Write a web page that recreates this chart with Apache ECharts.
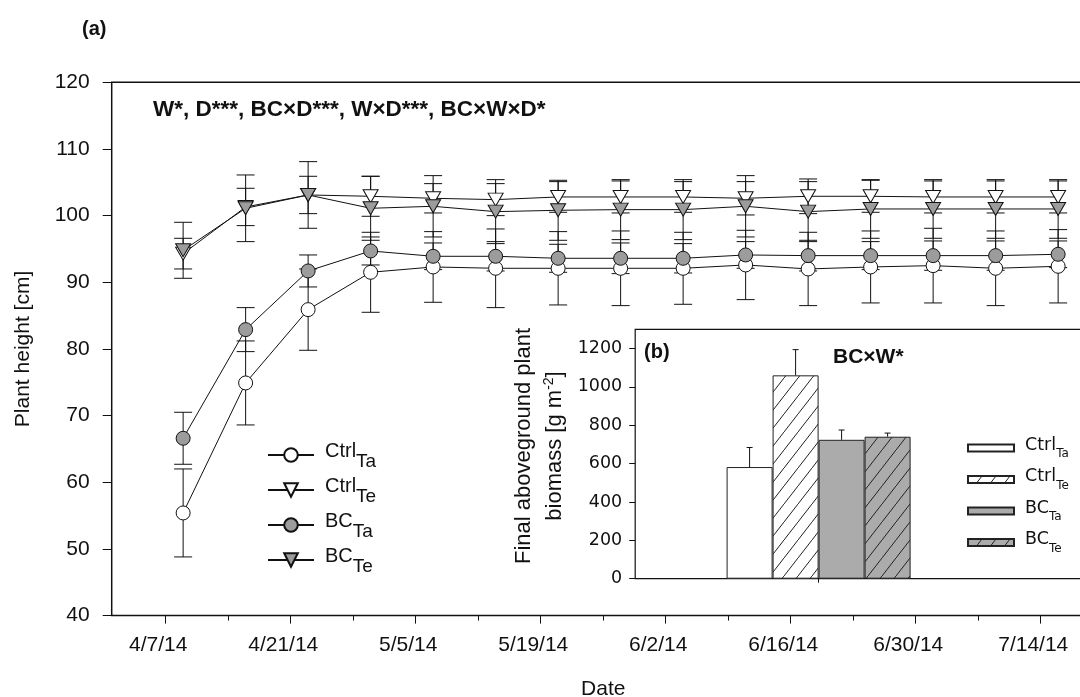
<!DOCTYPE html>
<html>
<head>
<meta charset="utf-8">
<script src="https://cdn.jsdelivr.net/npm/echarts@6/dist/echarts.min.js"></script>
<style>
html,body{margin:0;padding:0;background:#fff;}
#chart{width:1080px;height:697px;}
</style>
</head>
<body>
<div id="chart"></div>
<script>
// ---- Plant height, weekly means and SD per treatment ----
const sampleDates = ['4/9/14','4/16/14','4/23/14','4/30/14','5/7/14','5/14/14','5/21/14','5/28/14',
                     '6/4/14','6/11/14','6/18/14','6/25/14','7/2/14','7/9/14','7/16/14'];
const heightCtrlTa = [55.4, 74.9, 85.9, 91.5, 92.3, 92.1, 92.1, 92.1, 92.1, 92.6, 92.0, 92.3, 92.5, 92.1, 92.4];
const heightCtrlTe = [94.3, 101.3, 103.1, 102.9, 102.6, 102.4, 102.8, 102.8, 102.8, 102.6, 102.9, 102.9, 102.8, 102.8, 102.8];
const heightBCTa   = [66.6, 82.9, 91.7, 94.7, 93.9, 93.9, 93.6, 93.6, 93.6, 94.1, 94.0, 94.0, 94.0, 94.0, 94.2];
const heightBCTe   = [94.8, 101.1, 103.1, 101.1, 101.4, 100.6, 100.8, 100.9, 100.9, 101.4, 100.6, 101.0, 101.0, 101.0, 101.0];
const sdCtrlTa = [6.6, 6.3, 6.1, 6.0, 5.3, 5.9, 5.5, 5.6, 5.4, 5.2, 5.5, 5.4, 5.6, 5.6, 5.5];
const sdCtrlTe = [2.3, 2.8, 2.8, 3.0, 2.2, 2.4, 2.3, 2.4, 2.3, 2.5, 2.6, 2.4, 2.4, 2.4, 2.4];
const sdBCTa   = [3.9, 3.3, 2.4, 2.1, 2.0, 2.2, 2.1, 2.3, 2.2, 2.0, 2.3, 2.1, 2.2, 2.2, 2.0];
const sdBCTe   = [4.2, 5.0, 5.0, 4.8, 4.6, 4.8, 4.5, 4.5, 4.5, 4.6, 4.5, 4.4, 4.4, 4.4, 4.4];

// ---- Date axis ----
const dateAxisStart = '4/1/14';
const dateAxisEnd = '7/21/14';
const dateTickLabels = ['4/7/14','4/21/14','5/5/14','5/19/14','6/2/14','6/16/14','6/30/14','7/14/14'];
const dateMinorTicks = ['4/14/14','4/28/14','5/12/14','5/26/14','6/9/14','6/23/14','7/7/14','7/21/14'];

// ---- Treatments ----
const treatments = ['CtrlTa', 'CtrlTe', 'BCTa', 'BCTe'];
const treatmentBase = ['Ctrl', 'Ctrl', 'BC', 'BC'];
const treatmentSub = ['Ta', 'Te', 'Ta', 'Te'];

// ---- Final aboveground biomass (g m-2) ----
const biomass = [582, 1060, 724, 740];
const biomassErr = [102, 134, 51, 19];
const biomassTicks = [0, 200, 400, 600, 800, 1000, 1200];

// --------------------------------------------------------
function dayNum(s) {
  const p = s.split('/').map(Number);
  return Date.UTC(2000 + p[2], p[0] - 1, p[1]) / 864e5;
}
const xs = sampleDates.map(dayNum);
const tickValues = dateTickLabels.map(dayNum);
const minorValues = dateMinorTicks.map(dayNum);
const tickText = {};
dateTickLabels.forEach(function (l, i) { tickText[tickValues[i]] = l; });

const heights = [heightCtrlTa, heightCtrlTe, heightBCTa, heightBCTe];
const sds = [sdCtrlTa, sdCtrlTe, sdBCTa, sdBCTe];

const FONT = 'Liberation Sans, Arial, sans-serif';
const FONT_IN = 'DejaVu Sans, sans-serif';
const INK = '#111';

// main panel: 125 px per two weeks, frame runs past the right edge
const PX_PER_DAY = 125 / 14;
const mainWidth = (dayNum(dateAxisEnd) - dayNum(dateAxisStart)) * PX_PER_DAY;

// diagonal hatch tile for the warmed-treatment bars
function hatch(bg) {
  const w = 14, h = 18;
  const c = document.createElement('canvas');
  c.width = w; c.height = h;
  const g = c.getContext('2d');
  g.fillStyle = bg; g.fillRect(0, 0, w, h);
  g.strokeStyle = '#222'; g.lineWidth = 1;
  [[0, 0], [-w, h], [w, -h]].forEach(function (o) {
    g.beginPath(); g.moveTo(o[0], h + o[1]); g.lineTo(w + o[0], o[1]); g.stroke();
  });
  return { image: c, repeat: 'repeat' };
}
const GRAY_MARK = '#9c9c9c';
const GRAY_BAR = '#ababab';
const barFills = ['#ffffff', hatch('#ffffff'), GRAY_BAR, hatch(GRAY_BAR)];
const markFill = ['#ffffff', '#ffffff', GRAY_MARK, GRAY_MARK];
const markSymbol = ['circle', 'triangle', 'circle', 'triangle'];

function barName(t) { return t + ' biomass'; }
const nameIndex = {};
treatments.forEach(function (t, i) { nameIndex[t] = i; nameIndex[barName(t)] = i; });
function legendLabel(name) {
  const i = nameIndex[name];
  return '{b|' + treatmentBase[i] + '}{s|' + treatmentSub[i] + '}';
}

// error bars (mean +/- sd) with caps
function errorBarRender(capW) {
  return function (params, api) {
    const x = api.value(0), lo = api.value(1), hi = api.value(2);
    const a = api.coord([x, lo]), b = api.coord([x, hi]);
    const st = { stroke: INK, lineWidth: 1, fill: null };
    return {
      type: 'group',
      children: [
        { type: 'line', shape: { x1: a[0], y1: a[1], x2: b[0], y2: b[1] }, style: st },
        { type: 'line', shape: { x1: a[0] - capW / 2, y1: a[1], x2: a[0] + capW / 2, y2: a[1] }, style: st },
        { type: 'line', shape: { x1: b[0] - capW / 2, y1: b[1], x2: b[0] + capW / 2, y2: b[1] }, style: st }
      ]
    };
  };
}

// upward-only error bar on grouped bars
function biomassErrRender(params, api) {
  const i = api.value(3);
  const c = api.coord([0, api.value(1)]);
  const t = api.coord([0, api.value(2)]);
  const band = api.size([1, 0])[0];
  const cx = c[0] + (i - 1.5) * band / 4;
  const st = { stroke: INK, lineWidth: 1, fill: null };
  return {
    type: 'group',
    children: [
      { type: 'line', shape: { x1: cx, y1: c[1], x2: cx, y2: t[1] }, style: st },
      { type: 'line', shape: { x1: cx - 3, y1: t[1], x2: cx + 3, y2: t[1] }, style: st }
    ]
  };
}

const series = [];
treatments.forEach(function (t, i) {
  series.push({
    type: 'custom', name: t + ' sd', xAxisIndex: 0, yAxisIndex: 0, z: 3,
    renderItem: errorBarRender(18), silent: true,
    data: xs.map(function (x, k) { return [x, heights[i][k] - sds[i][k], heights[i][k] + sds[i][k]]; })
  });
});
treatments.forEach(function (t, i) {
  series.push({
    type: 'line', name: t, xAxisIndex: 0, yAxisIndex: 0, z: 5,
    data: xs.map(function (x, k) { return [x, heights[i][k]]; }),
    symbol: markSymbol[i],
    symbolRotate: markSymbol[i] === 'triangle' ? 180 : 0,
    symbolSize: markSymbol[i] === 'triangle' ? [15, 13] : 14,
    showAllSymbol: true,
    lineStyle: { color: INK, width: 1 },
    itemStyle: { color: markFill[i], borderColor: INK, borderWidth: 1, opacity: 1 },
    emphasis: { disabled: true }
  });
});
treatments.forEach(function (t, i) {
  series.push({
    type: 'bar', name: barName(t), xAxisIndex: 3, yAxisIndex: 2, z: 5,
    data: [biomass[i]], barGap: '0%', barCategoryGap: '0%',
    itemStyle: { color: barFills[i], borderColor: '#222', borderWidth: 1 },
    emphasis: { disabled: true }
  });
});
series.push({
  type: 'custom', name: 'biomass se', xAxisIndex: 3, yAxisIndex: 2, z: 6, silent: true,
  renderItem: biomassErrRender,
  data: biomass.map(function (v, i) { return [0, v, v + biomassErr[i], i]; })
});

const option = {
  animation: false,
  backgroundColor: '#fff',
  grid: [
    { left: 111.7, top: 82.3, width: mainWidth, bottom: 81.4, outerBoundsMode: 'none', containLabel: false,
      show: true, borderColor: INK, borderWidth: 1.5, backgroundColor: 'transparent' },
    { left: 635.2, top: 329.3, width: 500, bottom: 118.3, outerBoundsMode: 'none', containLabel: false,
      show: true, borderColor: INK, borderWidth: 1.2, backgroundColor: '#fff', z: 4 },
    { left: 726.6, top: 329.3, width: 184, bottom: 118.3, outerBoundsMode: 'none', containLabel: false, show: false }
  ],
  xAxis: [
    {
      gridIndex: 0, type: 'value', min: dayNum(dateAxisStart), max: dayNum(dateAxisEnd),
      position: 'bottom',
      axisLine: { show: false },
      splitLine: { show: false },
      axisTick: { show: true, length: 8, lineStyle: { color: INK, width: 1 }, customValues: tickValues },
      axisLabel: {
        customValues: tickValues, fontFamily: FONT, fontSize: 21, color: INK, margin: 19,
        padding: [0, 14, 0, 0],
        formatter: function (v) { return tickText[v] || ''; }
      },
      name: 'Date', nameLocation: 'middle', nameGap: 63,
      nameTextStyle: { fontFamily: FONT, fontSize: 21, color: INK, padding: [0, 8, 0, 0] }
    },
    {
      gridIndex: 0, type: 'value', min: dayNum(dateAxisStart), max: dayNum(dateAxisEnd),
      position: 'bottom', offset: 0,
      axisLine: { show: false }, splitLine: { show: false },
      axisTick: { show: true, length: 5, lineStyle: { color: INK, width: 1 }, customValues: minorValues },
      axisLabel: { show: false }
    },
    {
      gridIndex: 1, type: 'value', min: 0, max: 1,
      axisLine: { show: false }, axisTick: { show: false }, axisLabel: { show: false }, splitLine: { show: false }
    },
    {
      gridIndex: 2, type: 'category', data: ['biomass'],
      axisLine: { show: false },
      axisTick: { show: true, alignWithLabel: true, length: 4, lineStyle: { color: INK } },
      axisLabel: { show: false }
    }
  ],
  yAxis: [
    {
      gridIndex: 0, type: 'value', min: 40, max: 120, interval: 10,
      axisLine: { show: false }, splitLine: { show: false },
      axisTick: { show: true, length: 9, lineStyle: { color: INK, width: 1 } },
      axisLabel: { fontFamily: FONT, fontSize: 21, color: INK, margin: 22 },
      name: 'Plant height [cm]', nameLocation: 'middle', nameRotate: 90, nameGap: 78,
      nameTextStyle: { fontFamily: FONT, fontSize: 21, color: INK }
    },
    {
      gridIndex: 1, type: 'value', min: 0, max: 1300,
      axisLine: { show: false }, splitLine: { show: false },
      axisTick: { show: true, length: 6, lineStyle: { color: INK, width: 1 }, customValues: biomassTicks },
      axisLabel: {
        customValues: biomassTicks, fontFamily: FONT_IN, fontSize: 17.5, color: INK, margin: 13,
        formatter: function (v) { return String(v); }
      },
      name: 'Final aboveground plant\nbiomass [g m{sup|-2}]',
      nameLocation: 'middle', nameRotate: 90, nameGap: 65,
      nameTextStyle: {
        fontFamily: FONT, fontSize: 22, color: INK, lineHeight: 31, padding: [0, 0, 0, 16],
        rich: { sup: { fontFamily: FONT, fontSize: 14, color: INK, padding: [0, 0, 12, 0] } }
      }
    },
    {
      gridIndex: 2, type: 'value', min: 0, max: 1300, show: false
    }
  ],
  legend: [
    {
      orient: 'vertical', left: 267, top: 439, padding: 0, itemGap: 3,
      itemWidth: 46, itemHeight: 17, selectedMode: false,
      data: treatments,
      formatter: legendLabel,
      textStyle: {
        fontFamily: FONT, fontSize: 20, color: INK, padding: [0, 0, 0, 6],
        rich: {
          b: { fontFamily: FONT, fontSize: 20, color: INK, lineHeight: 22, padding: [0, 0, 8, 0] },
          s: { fontFamily: FONT, fontSize: 19, color: INK, lineHeight: 20, padding: [13, 0, 0, 0] }
        }
      }
    },
    {
      orient: 'vertical', left: 967, top: 436, padding: 0, itemGap: 7.5,
      itemWidth: 46, itemHeight: 7, icon: 'rect', selectedMode: false,
      data: treatments.map(barName),
      formatter: legendLabel,
      textStyle: {
        fontFamily: FONT_IN, fontSize: 17.5, color: INK, padding: [0, 0, 0, 6],
        rich: {
          b: { fontFamily: FONT_IN, fontSize: 17.5, color: INK, lineHeight: 20, padding: [0, 0, 6, 0] },
          s: { fontFamily: FONT_IN, fontSize: 12, color: INK, lineHeight: 14, padding: [12, 0, 0, 0] }
        }
      }
    }
  ],
  graphic: [
    { type: 'text', x: 82, y: 29, z: 10, style: { text: '(a)', font: 'bold 20px ' + FONT, fill: INK, verticalAlign: 'middle' } },
    { type: 'text', x: 153, y: 110, z: 10, style: { text: 'W*, D***, BC\u00d7D***, W\u00d7D***, BC\u00d7W\u00d7D*', font: 'bold 22.5px ' + FONT, fill: INK, verticalAlign: 'middle' } },
    { type: 'text', x: 644, y: 352, z: 10, style: { text: '(b)', font: 'bold 20px ' + FONT, fill: INK, verticalAlign: 'middle' } },
    { type: 'text', x: 833, y: 357, z: 10, style: { text: 'BC\u00d7W*', font: 'bold 21px ' + FONT, fill: INK, verticalAlign: 'middle' } }
  ],
  series: series
};

const chart = echarts.init(document.getElementById('chart'), null, { renderer: 'canvas' });
chart.setOption(option);
</script>
</body>
</html>
